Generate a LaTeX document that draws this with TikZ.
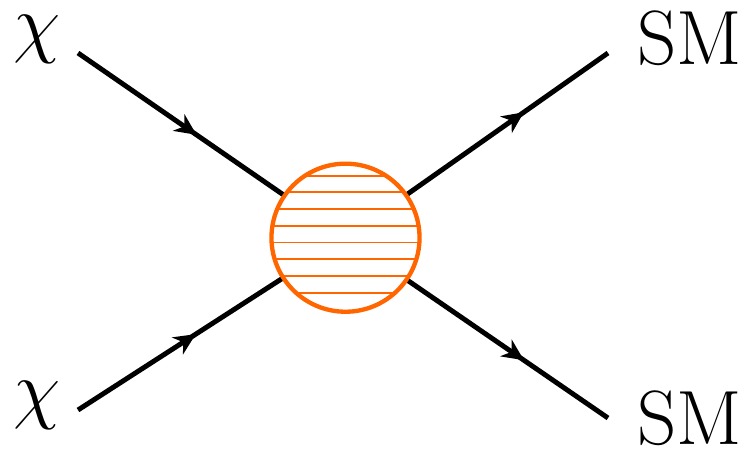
\documentclass[tikz,border=0pt]{standalone}
\usepackage{tikz}
\usetikzlibrary{arrows.meta, decorations.markings}
\definecolor{BlobOrange}{RGB}{255, 102, 0}

\tikzset{
  fermion/.style={
    line width=1.6pt, postaction={decorate},
    decoration={markings, mark=at position 0.58 with {\arrow{Stealth[length=7pt, width=6.5pt, inset=2.2pt]}}}
  },
  particle/.style={font=\Huge, inner sep=0pt},
  blob/.style={circle, draw=BlobOrange, line width=1.4pt, minimum size=47.9pt, inner sep=0pt},
  hatch/.style={draw=BlobOrange, line width=0.6pt}
}

\begin{document}
\begin{tikzpicture}[x=0.3235pt, y=-0.3235pt]
  \useasboundingbox (0,0) rectangle (751,449);

  % blob with horizontal hatching
  \node[blob] (blob) at (345.5,237.7) {};
  \begin{scope}
    \clip (blob.center) circle (23.4pt);
    \foreach \y in {175.7,192.4,...,293} {
      \draw[hatch] (260,\y) -- (430,\y);
    }
  \end{scope}

  % external particles
  \node[particle] (chiA) at (37,39) {$\chi$};
  \node[particle] (chiB) at (37,405) {$\chi$};
  \node[particle] (smA) at (690,38) {SM};
  \node[particle] (smB) at (690,418) {SM};

  \coordinate (inA) at (78,53);
  \coordinate (inB) at (78,410);
  \coordinate (outA) at (608,53);
  \coordinate (outB) at (608,418);

  % fermion lines
  \draw[fermion] (inA) -- (blob);
  \draw[fermion] (inB) -- (blob);
  \draw[fermion] (blob) -- (outA);
  \draw[fermion] (blob) -- (outB);
\end{tikzpicture}
\end{document}
